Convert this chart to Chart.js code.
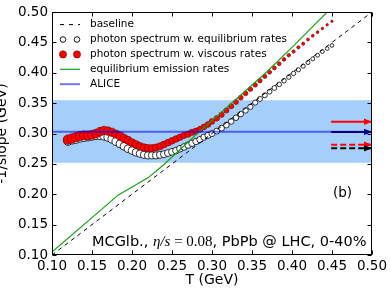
<!DOCTYPE html>
<html>
<head>
<meta charset="utf-8">
<script src="https://cdn.jsdelivr.net/npm/chart.js@4.4.0/dist/chart.umd.min.js"></script>
<style>
  html, body { margin: 0; padding: 0; background: #fff; }
</style>
</head>
<body>
<canvas id="slope" width="390" height="288"></canvas>
<script>
// tick labels
var xTicks = [0.10, 0.15, 0.20, 0.25, 0.30, 0.35, 0.40, 0.45, 0.50];
var yTicks = [0.10, 0.15, 0.20, 0.25, 0.30, 0.35, 0.40, 0.45, 0.50];

// photon spectrum w. viscous rates (red dots)
var viscT = [0.120, 0.125, 0.130, 0.135, 0.140, 0.145, 0.150, 0.155, 0.160, 0.165,
  0.170, 0.175, 0.180, 0.185, 0.190, 0.195, 0.200, 0.205, 0.210, 0.215,
  0.220, 0.225, 0.230, 0.235, 0.240, 0.245, 0.250, 0.255, 0.260, 0.265,
  0.270, 0.275, 0.280, 0.285, 0.290, 0.295, 0.300,
  0.306, 0.312, 0.318, 0.324, 0.330, 0.336, 0.342, 0.348, 0.354, 0.360,
  0.366, 0.372, 0.378, 0.384, 0.390, 0.396, 0.402, 0.408, 0.414, 0.420,
  0.426, 0.432, 0.438, 0.444, 0.450];
var viscSlope = [0.290, 0.292, 0.294, 0.296, 0.297, 0.297, 0.298, 0.300, 0.303, 0.305,
  0.304, 0.302, 0.299, 0.296, 0.292, 0.289, 0.285, 0.282, 0.279, 0.277,
  0.276, 0.276, 0.277, 0.279, 0.282, 0.285, 0.288, 0.291, 0.294, 0.297,
  0.299, 0.302, 0.304, 0.307, 0.311, 0.315, 0.320,
  0.325, 0.331, 0.338, 0.345, 0.352, 0.359, 0.366, 0.373, 0.380, 0.387,
  0.394, 0.401, 0.408, 0.415, 0.422, 0.429, 0.435, 0.442, 0.448, 0.455,
  0.461, 0.467, 0.473, 0.479, 0.485];

// photon spectrum w. equilibrium rates (open circles)
var eqT = viscT.slice();
var eqSlope = [0.288, 0.290, 0.291, 0.293, 0.294, 0.295, 0.296, 0.297, 0.297, 0.296,
  0.294, 0.291, 0.287, 0.283, 0.279, 0.275, 0.272, 0.269, 0.267, 0.265,
  0.264, 0.264, 0.264, 0.265, 0.266, 0.268, 0.270, 0.272, 0.275, 0.278,
  0.281, 0.284, 0.287, 0.290, 0.294, 0.297, 0.300,
  0.304, 0.309, 0.314, 0.320, 0.326, 0.332, 0.338, 0.344, 0.351, 0.357,
  0.363, 0.369, 0.375, 0.381, 0.387, 0.393, 0.399, 0.405, 0.411, 0.417,
  0.423, 0.429, 0.435, 0.440, 0.445];

// equilibrium emission rates (green line)
var rateT = [0.100, 0.183, 0.220, 0.240, 0.284, 0.322, 0.368, 0.400, 0.444, 0.450];
var rateSlope = [0.105, 0.199, 0.227, 0.249, 0.303, 0.347, 0.401, 0.442, 0.500, 0.508];

// baseline T_eff = T
var baseT = [0.10, 0.50];
var baseSlope = [0.10, 0.50];

// ALICE value and its error band
var aliceT = [0.10, 0.50];
var aliceSlope = [0.303, 0.303];
var aliceBand = [0.252, 0.355];

// arrows at the right edge
var arrowT = [0.449, 0.50];
var arrowSlope = [0.3195, 0.3027, 0.2816, 0.2756];

var legendLabels = ['baseline', 'photon spectrum w. equilibrium rates',
  'photon spectrum w. viscous rates', 'equilibrium emission rates', 'ALICE'];


function pts(xs, ys) {
  return xs.map(function (x, i) { return { x: x, y: ys[i] }; });
}

var SANS = '"DejaVu Sans", sans-serif';
var SERIF = '"Liberation Serif", "DejaVu Serif", serif';
var arrowColors = ['#ff0000', '#000080', '#ff0000', '#000000'];
var arrowDashed = [false, false, true, true];

// shrink the markers along the curve, like the reference
function markerSize(big, small) {
  return function (c) {
    var x = c.raw ? c.raw.x : 0.12;
    return big - (x - 0.12) / 0.33 * (big - small);
  };
}

var datasets = [];

datasets.push({
  data: pts(aliceT, [aliceBand[1], aliceBand[1]]),
  showLine: true, borderWidth: 0, pointRadius: 0,
  backgroundColor: 'rgb(166,206,250)',
  fill: { value: aliceBand[0] },
  order: 20
});
datasets.push({
  data: pts(eqT, eqSlope),
  showLine: false,
  pointRadius: markerSize(4.5, 1.8),
  pointBackgroundColor: '#ffffff',
  pointBorderColor: '#000000',
  pointBorderWidth: 0.8,
  order: 15
});
datasets.push({
  data: pts(viscT, viscSlope),
  showLine: false,
  pointRadius: markerSize(4.8, 1.2),
  pointBackgroundColor: '#ff0000',
  pointBorderColor: 'rgba(90,0,0,0.9)',
  pointBorderWidth: 0.6,
  order: 14
});
datasets.push({
  data: pts(baseT, baseSlope),
  showLine: true, pointRadius: 0,
  borderColor: '#000000', borderWidth: 1, borderDash: [4, 4],
  order: 12
});
datasets.push({
  data: pts(rateT, rateSlope),
  showLine: true, pointRadius: 0,
  borderColor: '#1a9f1a', borderWidth: 1.2,
  order: 11
});
datasets.push({
  data: pts(aliceT, aliceSlope),
  showLine: true, pointRadius: 0,
  borderColor: 'rgba(0,0,255,0.55)', borderWidth: 2,
  order: 10
});
arrowSlope.forEach(function (v, i) {
  datasets.push({
    data: pts(arrowT, [v, v]),
    showLine: true, pointRadius: 0,
    borderColor: arrowColors[i], borderWidth: 2,
    borderDash: arrowDashed[i] ? [6, 3] : [],
    order: 5 - i
  });
});


var decorations = {
  id: 'decorations',
  afterDatasetsDraw: function (chart) {
    var ctx = chart.ctx, a = chart.chartArea;
    var xs = chart.scales.x, ys = chart.scales.y;

    // arrow heads
    arrowSlope.forEach(function (v, i) {
      var px = xs.getPixelForValue(arrowT[1]);
      var py = ys.getPixelForValue(v);
      ctx.save();
      ctx.fillStyle = arrowColors[i];
      ctx.beginPath();
      ctx.moveTo(px, py);
      ctx.lineTo(px - 8, py - 3.2);
      ctx.lineTo(px - 8, py + 3.2);
      ctx.closePath();
      ctx.fill();
      ctx.restore();
    });

    // frame with inward ticks on all sides
    ctx.save();
    ctx.strokeStyle = '#000';
    ctx.lineWidth = 1;
    var L = Math.round(a.left) + 0.5, R = Math.round(a.right) - 0.5;
    var T = Math.round(a.top) + 0.5, B = Math.round(a.bottom) - 0.5;
    ctx.strokeRect(L, T, R - L, B - T);
    ctx.beginPath();
    xTicks.forEach(function (v) {
      var p = Math.round(xs.getPixelForValue(v)) + 0.5;
      ctx.moveTo(p, B); ctx.lineTo(p, B - 4);
      ctx.moveTo(p, T); ctx.lineTo(p, T + 4);
    });
    yTicks.forEach(function (v) {
      var p = Math.round(ys.getPixelForValue(v)) + 0.5;
      ctx.moveTo(L, p); ctx.lineTo(L + 4, p);
      ctx.moveTo(R, p); ctx.lineTo(R - 4, p);
    });
    ctx.stroke();
    ctx.restore();

    // legend
    ctx.save();
    ctx.font = '10.5px ' + SANS;
    ctx.textBaseline = 'middle';
    ctx.fillStyle = '#000';
    legendLabels.forEach(function (label, i) {
      var y = a.top + 12.5 + i * 14.9;
      var x0 = a.left + 8, x1 = a.left + 28;
      ctx.save();
      if (i === 0) {
        ctx.strokeStyle = '#000'; ctx.lineWidth = 1; ctx.setLineDash([4, 5]);
        ctx.beginPath(); ctx.moveTo(x0, y); ctx.lineTo(x1, y); ctx.stroke();
      } else if (i === 1 || i === 2) {
        [x0 + 3, x1 - 3].forEach(function (cx) {
          ctx.beginPath();
          ctx.arc(cx, y, i === 1 ? 2.8 : 3.6, 0, Math.PI * 2);
          ctx.fillStyle = i === 1 ? '#fff' : '#ff0000';
          ctx.fill();
          ctx.lineWidth = i === 1 ? 0.9 : 0.6;
          ctx.strokeStyle = i === 1 ? '#000' : 'rgba(90,0,0,0.9)';
          ctx.stroke();
        });
      } else if (i === 3) {
        ctx.strokeStyle = '#1a9f1a'; ctx.lineWidth = 1.2;
        ctx.beginPath(); ctx.moveTo(x0, y); ctx.lineTo(x1, y); ctx.stroke();
      } else {
        ctx.strokeStyle = 'rgba(0,0,255,0.55)'; ctx.lineWidth = 2;
        ctx.beginPath(); ctx.moveTo(x0, y); ctx.lineTo(x1, y); ctx.stroke();
      }
      ctx.restore();
      ctx.fillText(label, a.left + 38, y);
    });
    ctx.restore();

    // panel label
    ctx.save();
    ctx.font = '13.5px ' + SANS;
    ctx.textAlign = 'center';
    ctx.textBaseline = 'middle';
    ctx.fillStyle = '#000';
    ctx.fillText('(b)', a.left + 290.5, a.top + 181.5);

    // run info, with the math part in serif
    var parts = [
      ['MCGlb., ', '14.5px ' + SANS],
      ['\u03b7/s', 'italic 15px ' + SERIF],
      [' = 0.08', '15px ' + SERIF],
      [', PbPb @ LHC, 0-40%', '14.5px ' + SANS]
    ];
    ctx.textAlign = 'left';
    var tx = a.left + 40;
    parts.forEach(function (p) {
      ctx.font = p[1];
      ctx.fillText(p[0], tx, a.top + 230);
      tx += ctx.measureText(p[0]).width;
    });

    // axis titles
    ctx.font = '14px ' + SANS;
    ctx.textAlign = 'center';
    ctx.fillText('T (GeV)', (a.left + a.right) / 2, 280);
    ctx.translate(2, (a.top + a.bottom) / 2);
    ctx.rotate(-Math.PI / 2);
    ctx.fillText('-1/slope (GeV)', 0, 0);
    ctx.restore();
  }
};


new Chart(document.getElementById('slope'), {
  type: 'scatter',
  data: { datasets: datasets },
  options: {
    responsive: false,
    animation: false,
    events: [],
    layout: { padding: { top: 9, right: 17, left: 0, bottom: 0 } },
    plugins: { legend: { display: false }, tooltip: { enabled: false } },
    elements: { line: { tension: 0 } },
    scales: {
      x: {
        type: 'linear', min: 0.10, max: 0.50,
        grid: { display: false, drawTicks: false },
        border: { display: false },
        afterBuildTicks: function (s) { s.ticks = xTicks.map(function (v) { return { value: v }; }); },
        afterFit: function (s) { s.height = 33; },
        ticks: {
          padding: 3, color: '#000', maxRotation: 0, autoSkip: false,
          font: { family: 'DejaVu Sans', size: 13.5 },
          callback: function (v) { return v.toFixed(2); }
        }
      },
      y: {
        type: 'linear', min: 0.10, max: 0.50,
        grid: { display: false, drawTicks: false },
        border: { display: false },
        afterBuildTicks: function (s) { s.ticks = yTicks.map(function (v) { return { value: v }; }); },
        afterFit: function (s) { s.width = 52; },
        ticks: {
          padding: 4, color: '#000', autoSkip: false,
          font: { family: 'DejaVu Sans', size: 13.5 },
          callback: function (v) { return v.toFixed(2); }
        }
      }
    }
  },
  plugins: [decorations]
});
</script>
</body>
</html>
